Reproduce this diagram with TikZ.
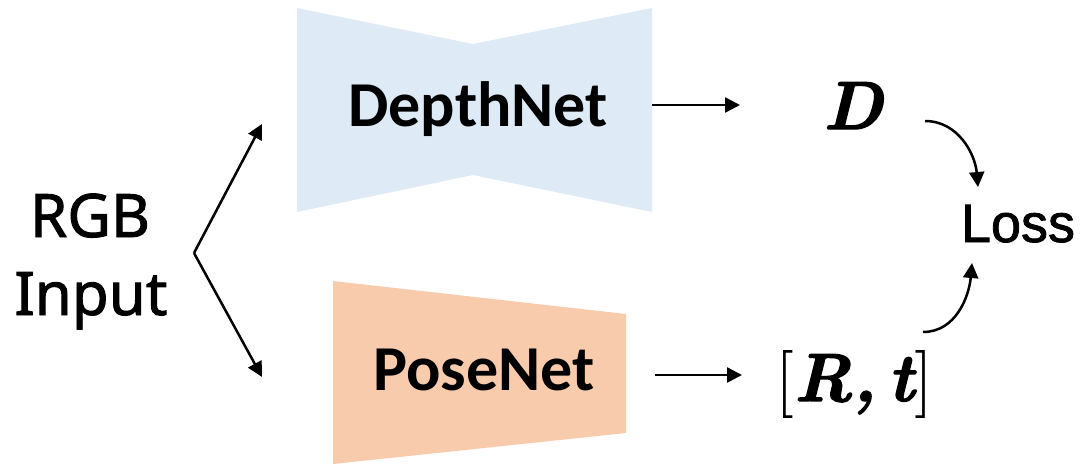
\documentclass[tikz,border=0pt]{standalone}
\usepackage{fontspec}
\usetikzlibrary{arrows.meta}
\newfontfamily\calb{Carlito}[BoldFont={* Bold}]
\newfontfamily\arl{Liberation Sans}[FakeBold=1.5]
\newfontfamily\nsans{Noto Sans}[FakeBold=1.5]
\newfontfamily\mbifont{lmroman10-bolditalic.otf}[FakeBold=2]
\newfontfamily\mrfont{lmroman10-regular.otf}
\newcommand{\mbi}[1]{{\mbifont #1}}
\definecolor{dblue}{HTML}{DEEAF6}
\definecolor{ppeach}{HTML}{F8CBAD}
\begin{document}
\begin{tikzpicture}[x=1pt,y=-1pt,
  arr/.style={line width=2.5pt,-{Triangle[length=15pt,width=15pt]}},
  netlabel/.style={anchor=base,inner sep=0pt,font=\calb\bfseries\fontsize{64}{70}\selectfont},
  mathlabel/.style={anchor=base,inner sep=0pt,font=\mrfont\fontsize{68}{74}\selectfont},
  txt/.style={anchor=base,inner sep=0pt}]
\useasboundingbox (0,0) rectangle (1084,464);
% shapes
\fill[dblue] (297,8) -- (473,44) -- (652,8) -- (652,212) -- (473,175) -- (297,212) -- cycle;
\fill[ppeach] (333,281) -- (626,314) -- (626,433) -- (333,464) -- cycle;
% labels
\node[netlabel] (dnet) at (478,126) {DepthNet};
\node[netlabel] (pnet) at (484,390) {PoseNet};
\node[mathlabel] (D) at (853,129) {\mbi{D}};
\node[mathlabel] (Rt) at (854,401) {[\mbi{R,}\,\mbi{t}]};
\node[txt,font=\arl\fontsize{54}{60}\selectfont] (loss) at (1018,242) {Loss};
\node[txt,font=\nsans\fontsize{60}{70}\selectfont] (rgb) at (90,237) {RGB};
\node[txt,font=\nsans\fontsize{60}{70}\selectfont] (inp) at (91,315) {Input};
% connector points
\coordinate (fork) at (194,253);
\coordinate (dnIn) at (262,124);
\coordinate (pnIn) at (262,377);
\coordinate (dnOut) at (652,105);
\coordinate (Din) at (740,105);
\coordinate (pnOut) at (655,375);
\coordinate (Rtin) at (742,375);
\coordinate (Dout) at (925,121);
\coordinate (lossTop) at (978,187);
\coordinate (Rtout) at (923,332);
\coordinate (lossBot) at (972,263);
% connectors
\draw[arr] (fork) -- (dnIn);
\draw[arr] (fork) -- (pnIn);
\draw[arr] (dnOut) -- (Din);
\draw[arr] (pnOut) -- (Rtin);
\draw[arr] (Dout) to[out=0,in=95] (lossTop);
\draw[arr] (Rtout) to[out=0,in=-95] (lossBot);
\end{tikzpicture}
\end{document}
